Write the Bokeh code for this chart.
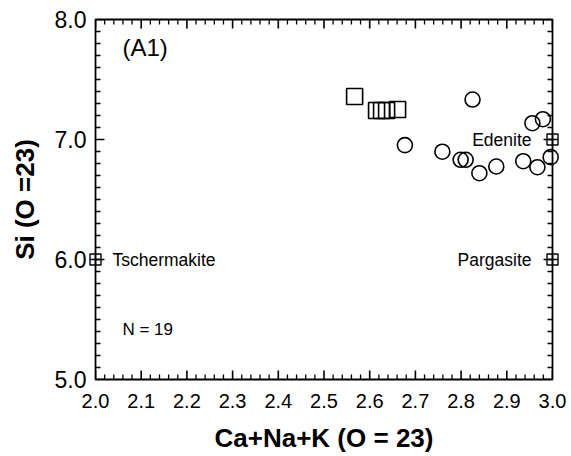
import numpy as np
from bokeh.plotting import figure
from bokeh.models import SingleIntervalTicker, Range1d, Label, ColumnDataSource, PrintfTickFormatter
from bokeh.core.properties import value
from bokeh.embed import file_html
from bokeh.resources import INLINE

# Data
sq_x = [2.567, 2.615, 2.626, 2.637, 2.661]
sq_y = [7.358, 7.242, 7.242, 7.242, 7.250]
circ_x = [2.825, 2.956, 2.979, 2.677, 2.759, 2.799, 2.810, 2.840, 2.877, 2.936, 2.967, 2.996]
circ_y = [7.333, 7.136, 7.169, 6.953, 6.898, 6.831, 6.831, 6.719, 6.775, 6.819, 6.769, 6.853]
end_names = ["Tschermakite", "Edenite", "Pargasite"]
end_x = [2.0, 3.0, 3.0]
end_y = [6.0, 7.0, 6.0]
panel_label = "(A1)"
n_label = "N = 19"

X_MIN, X_MAX, X_STEP, X_MINOR = 2.0, 3.0, 0.1, 0.02
Y_MIN, Y_MAX, Y_STEP, Y_MINOR = 5.0, 8.0, 1.0, 0.1

FONT = "Liberation Sans"

p = figure(width=571, height=456, output_backend="svg", toolbar_location=None,
           x_range=Range1d(X_MIN, X_MAX), y_range=Range1d(Y_MIN, Y_MAX),
           min_border_left=95, min_border_right=19, min_border_top=19, min_border_bottom=77)
p.xgrid.visible = False
p.ygrid.visible = False
p.outline_line_color = "black"
p.outline_line_width = 1.8
p.background_fill_color = "white"
p.border_fill_color = "white"

p.xaxis.ticker = SingleIntervalTicker(interval=X_STEP, num_minor_ticks=5)
p.yaxis.ticker = SingleIntervalTicker(interval=Y_STEP, num_minor_ticks=10)
for ax in (p.xaxis[0], p.yaxis[0]):
    ax.axis_line_color = None
    ax.major_tick_line_color = None
    ax.minor_tick_line_color = None
    ax.major_tick_in = 0
    ax.major_tick_out = 0
    ax.minor_tick_in = 0
    ax.minor_tick_out = 0
    ax.major_label_text_font = FONT
    ax.major_label_text_color = "black"
    ax.formatter = PrintfTickFormatter(format="%.1f")
    ax.axis_label_text_font = FONT
    ax.axis_label_text_font_style = "bold"
    ax.axis_label_text_font_size = "26px"
    ax.axis_label_text_color = "black"
p.xaxis.major_label_text_font_size = "20px"
p.xaxis.major_label_standoff = 14
p.yaxis.major_label_text_font_size = "23px"
p.yaxis.major_label_standoff = 9
p.xaxis.axis_label = "Ca+Na+K (O = 23)"
p.yaxis.axis_label = "Si (O =23)"
p.xaxis.axis_label_standoff = 12
p.yaxis.axis_label_standoff = 12

# inward ticks on all four sides
xmaj = np.round(np.arange(X_MIN, X_MAX + 1e-9, X_STEP), 3)
xmin_ = np.round(np.arange(X_MIN, X_MAX + 1e-9, X_MINOR), 3)
xmin_ = np.array([v for v in xmin_ if np.min(np.abs(xmaj - v)) > 1e-6])
ymaj = np.round(np.arange(Y_MIN, Y_MAX + 1e-9, Y_STEP), 3)
ymin_ = np.round(np.arange(Y_MIN, Y_MAX + 1e-9, Y_MINOR), 3)
ymin_ = np.array([v for v in ymin_ if np.min(np.abs(ymaj - v)) > 1e-6])

def ticks(xs, ys, angle, length, width):
    p.ray(x=list(xs), y=list(ys), length=length, angle=angle, length_units="screen",
          line_color="black", line_width=width)

ticks(xmaj, [Y_MIN] * len(xmaj), np.pi / 2, 9, 1.6)
ticks(xmin_, [Y_MIN] * len(xmin_), np.pi / 2, 5, 1.3)
ticks(xmaj, [Y_MAX] * len(xmaj), -np.pi / 2, 9, 1.6)
ticks(xmin_, [Y_MAX] * len(xmin_), -np.pi / 2, 5, 1.3)
ticks([X_MIN] * len(ymaj), ymaj, 0, 9, 1.6)
ticks([X_MIN] * len(ymin_), ymin_, 0, 5, 1.3)
ticks([X_MAX] * len(ymaj), ymaj, np.pi, 9, 1.6)
ticks([X_MAX] * len(ymin_), ymin_, np.pi, 5, 1.3)

# Data marks (overlay level so that marks at the frame edge are not clipped)
r1 = p.scatter(sq_x, sq_y, marker="square", size=16, fill_color=None, line_color="black", line_width=1.6)
r2 = p.scatter(circ_x, circ_y, marker="circle", size=15, fill_color=None, line_color="black", line_width=1.6)

src = ColumnDataSource(dict(x=end_x, y=end_y, name=end_names))
r3 = p.scatter("x", "y", source=src, marker="square_cross", size=11, fill_color=None,
               line_color="black", line_width=1.4)
for r in (r1, r2, r3):
    r.level = "overlay"

p.text(x=[end_x[0]], y=[end_y[0]], text=[end_names[0]], x_offset=17,
       text_font=value(FONT), text_font_size="17.5px", text_baseline="middle",
       text_align="left", text_color="black")
p.text(x=end_x[1:], y=end_y[1:], text=end_names[1:], x_offset=-21,
       text_font=value(FONT), text_font_size="17.5px", text_baseline="middle",
       text_align="right", text_color="black")

p.add_layout(Label(x=2.059, y=7.77, text=panel_label, text_font=FONT, text_font_size="24px",
                   text_baseline="middle", text_color="black"))
p.add_layout(Label(x=2.059, y=5.42, text=n_label, text_font=FONT, text_font_size="17px",
                   text_baseline="middle", text_color="black"))

open("out.html", "w").write(file_html(p, INLINE))
